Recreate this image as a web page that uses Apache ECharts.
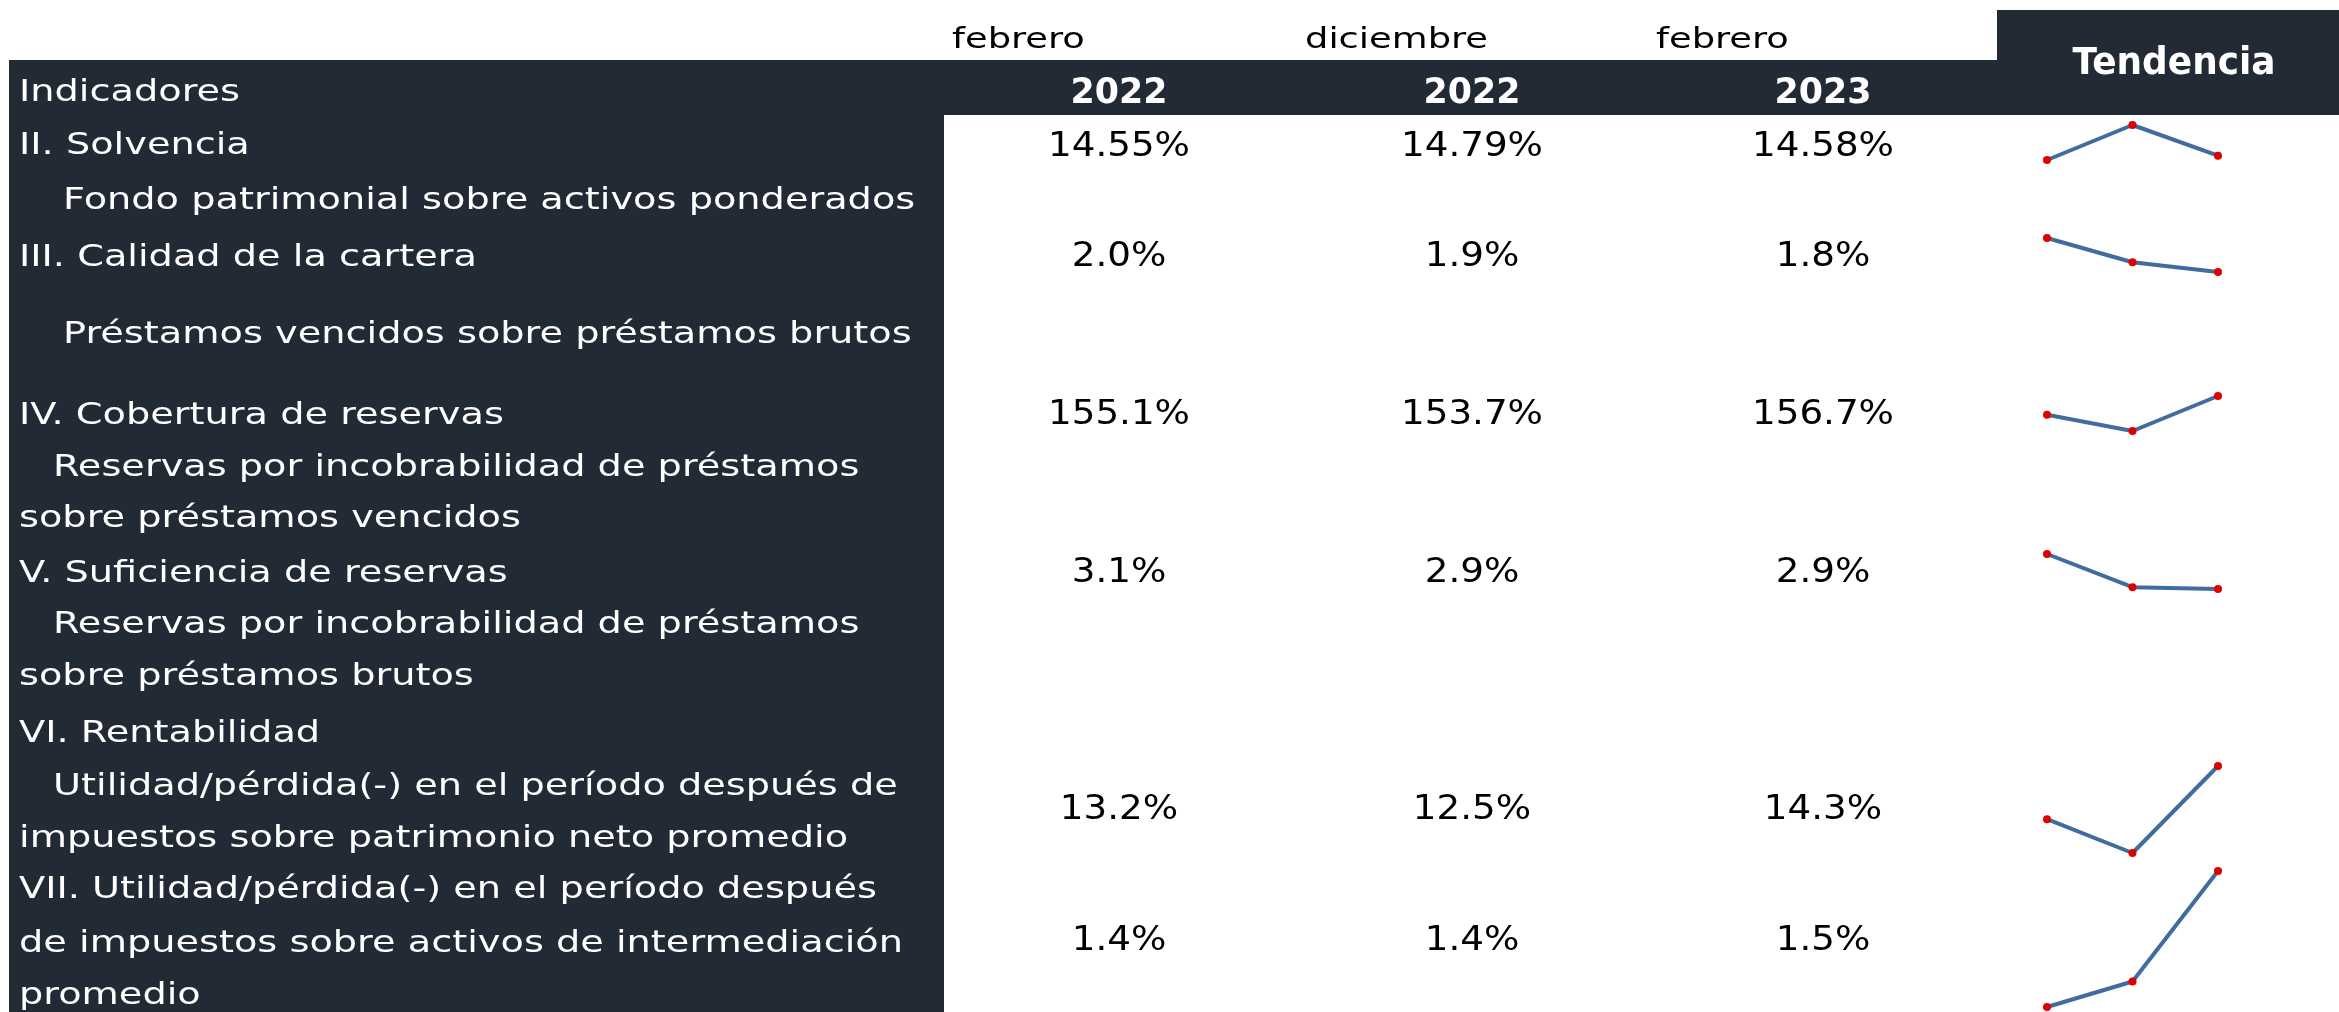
<!DOCTYPE html>
<html><head><meta charset="utf-8">
<script src="https://cdn.jsdelivr.net/npm/echarts@6/dist/echarts.min.js"></script>
<style>html,body{margin:0;padding:0;background:#fff}#c{width:2339px;height:1012px}</style>
</head><body><div id="c"></div>
<script>
// ---------- data ----------
const periods = ['febrero', 'diciembre', 'febrero'];
const years = ['2022', '2022', '2023'];
const headerLabel = 'Indicadores';
const trendTitle = 'Tendencia';
const labelLines = [
  'II. Solvencia',
  'Fondo patrimonial sobre activos ponderados',
  'III. Calidad de la cartera',
  'Préstamos vencidos sobre préstamos brutos',
  'IV. Cobertura de reservas',
  'Reservas por incobrabilidad de préstamos',
  'sobre préstamos vencidos',
  'V. Suficiencia de reservas',
  'Reservas por incobrabilidad de préstamos',
  'sobre préstamos brutos',
  'VI. Rentabilidad',
  'Utilidad/pérdida(-) en el período después de',
  'impuestos sobre patrimonio neto promedio',
  'VII. Utilidad/pérdida(-) en el período después',
  'de impuestos sobre activos de intermediación',
  'promedio'
];
const solvencia = [14.55, 14.79, 14.58];
const calidadCartera = [1.98, 1.88, 1.84];
const coberturaReservas = [155.1, 153.7, 156.7];
const suficienciaReservas = [3.08, 2.90, 2.89];
const rentabilidadPatrimonio = [13.2, 12.5, 14.3];
const rentabilidadActivos = [1.37, 1.40, 1.53];
const indicatorValues = [solvencia, calidadCartera, coberturaReservas, suficienciaReservas, rentabilidadPatrimonio, rentabilidadActivos];
const decimals = [2, 1, 1, 1, 1, 1];

// ---------- layout / style ----------
const DARK = '#222a35';
const FAM = '"DejaVu Sans", sans-serif';
const colX = [1119, 1472, 1823];
const monthX = [952, 1305, 1656];
const headerY = 93;
const labelX = [19, 63, 19, 63, 19, 53, 19, 19, 53, 19, 19, 53, 19, 19, 19, 19];
const labelY = [146, 201, 258, 335, 416, 468, 519, 574, 625, 677, 734, 787, 839, 890, 944, 996];
const valueY = [147, 257, 415, 573, 810, 941];
const sparkBox = [[125, 35], [238, 34], [396, 35], [554, 35], [766, 87], [871, 136]];
const sparkLeft = 2047, sparkWidth = 171;

const mctx = document.createElement('canvas').getContext('2d');
function fit(text, weight, size, target) {
  mctx.font = weight + ' ' + size + 'px ' + FAM;
  return target / mctx.measureText(text).width;
}
const LBL = {size: 30, weight: 'normal'};
LBL.sx = fit('de impuestos sobre activos de intermediación', LBL.weight, LBL.size, 884);
const VAL = {size: 34, weight: 'normal'};
VAL.sx = fit('14.55%', VAL.weight, VAL.size, 142);
const MON = {size: 29, weight: 'normal'};
MON.sx = fit('diciembre', MON.weight, MON.size, 183);
const YR = {size: 36, weight: 'bold'};
YR.sx = fit('2022', YR.weight, YR.size, 97);
const TT = {size: 37, weight: 'bold'};
TT.sx = fit('Tendencia', TT.weight, TT.size, 203);

function txt(text, x, y, st, fill, align) {
  return {
    type: 'text', x: x, y: y, scaleX: st.sx, silent: true, z: 10,
    style: {
      text: text, fill: fill, fontSize: st.size, fontWeight: st.weight, fontFamily: FAM,
      textAlign: align, textVerticalAlign: 'middle'
    }
  };
}
function rect(x, y, w, h) {
  return {type: 'rect', silent: true, z: 1, shape: {x: x, y: y, width: w, height: h}, style: {fill: DARK}};
}

const elements = [
  rect(9, 60, 1988, 55),
  rect(1997, 10, 342, 105),
  rect(9, 60, 935, 952)
];
elements.push(txt(headerLabel, 19, headerY, LBL, '#fff', 'left'));
labelLines.forEach((t, i) => elements.push(txt(t, labelX[i], labelY[i], LBL, '#fff', 'left')));
periods.forEach((p, i) => elements.push(txt(p, monthX[i], 40, MON, '#000', 'left')));
years.forEach((y, i) => elements.push(txt(y, colX[i], 94, YR, '#fff', 'center')));
elements.push(txt(trendTitle, 2174, 64, TT, '#fff', 'center'));
indicatorValues.forEach((vals, r) => {
  vals.forEach((v, c) => {
    elements.push(txt(v.toFixed(decimals[r]) + '%', colX[c], valueY[r], VAL, '#000', 'center'));
  });
});

const grids = [], xAxes = [], yAxes = [], series = [];
indicatorValues.forEach((vals, r) => {
  grids.push({left: sparkLeft, width: sparkWidth, top: sparkBox[r][0], height: sparkBox[r][1]});
  xAxes.push({type: 'category', gridIndex: r, data: periods, boundaryGap: false, show: false});
  yAxes.push({type: 'value', gridIndex: r, min: 'dataMin', max: 'dataMax', show: false, scale: true});
  series.push({
    type: 'line', xAxisIndex: r, yAxisIndex: r, data: vals, clip: false, silent: true,
    symbol: 'circle', symbolSize: 8, showSymbol: true,
    lineStyle: {color: '#416c9f', width: 4},
    itemStyle: {color: '#e00000', borderWidth: 0},
    z: 5
  });
});

const chart = echarts.init(document.getElementById('c'), null, {renderer: 'canvas'});
chart.setOption({
  animation: false,
  backgroundColor: '#fff',
  grid: grids, xAxis: xAxes, yAxis: yAxes, series: series,
  graphic: {elements: elements}
});
</script></body></html>
